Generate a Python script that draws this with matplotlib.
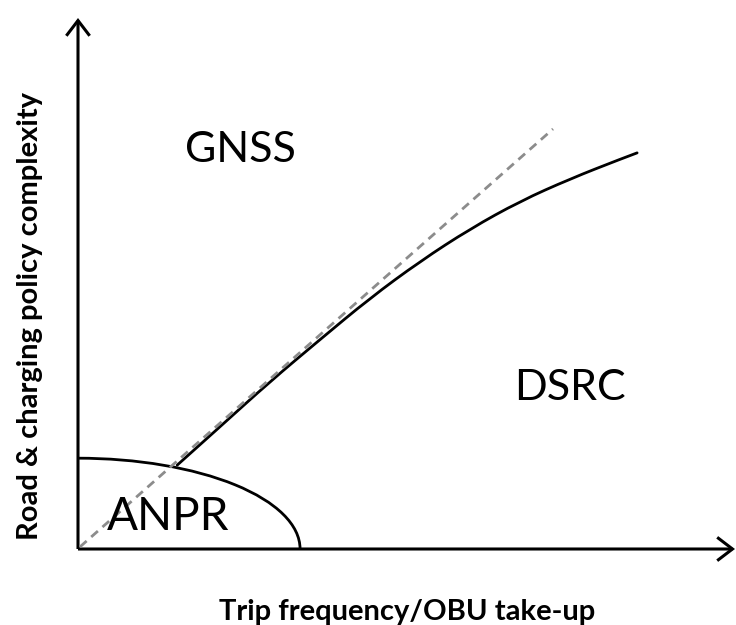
import numpy as np
import matplotlib
matplotlib.use("Agg")
import matplotlib.pyplot as plt
from matplotlib.patches import Arc, FancyArrowPatch, PathPatch
from matplotlib.path import Path

# ---- data (axis units 0..10) ----
boundary_x = [1.51, 2.16, 2.92, 3.68, 4.44, 5.21, 5.97, 6.73, 7.49, 8.25, 8.51]
boundary_y = [1.58, 2.30, 3.15, 3.94, 4.72, 5.42, 6.03, 6.55, 6.97, 7.34, 7.46]
trend_x = [0.03, 7.23]
trend_y = [0.04, 7.91]
anpr_a = 3.38   # semi-axis along x
anpr_b = 1.71   # semi-axis along y
region_labels = ["GNSS", "DSRC", "ANPR"]
region_x = [2.48, 7.49, 1.37]
region_y = [7.29, 2.81, 0.36]
xlabel = "Trip frequency/OBU take-up"
ylabel = "Road & charging policy complexity"

W, H = 736, 625
fig = plt.figure(figsize=(W / 100, H / 100), dpi=100)
ox, oy = 78, 549
ax = fig.add_axes([ox / W, (H - oy) / H, (735 - ox) / W, (oy - 18) / H])
ax.set_xlim(0, 10)
ax.set_ylim(0, 10)
ax.axis("off")

font = "Lato"

# axes arrows
for end in [(10, 0), (0, 10)]:
    arr = FancyArrowPatch((0, 0), end, arrowstyle="->,head_length=0.55,head_width=0.42",
                          mutation_scale=20, lw=2.2, color="black", clip_on=False,
                          shrinkA=0, shrinkB=0, joinstyle="miter", capstyle="butt")
    ax.add_patch(arr)

# dashed trend line
ax.plot(trend_x, trend_y, color="#8c8c8c", lw=2.0, ls=(0, (3.2, 2.2)), clip_on=False)

# ANPR ellipse arc
ax.add_patch(Arc((0, 0), 2 * anpr_a, 2 * anpr_b, theta1=0, theta2=90,
                 color="black", lw=2.0, clip_on=False))

# boundary curve: smooth quadratic Bezier path using read points as control points
pts = list(zip(boundary_x, boundary_y))
verts = [pts[0]]
codes = [Path.MOVETO]
for i in range(1, len(pts) - 1):
    mid = ((pts[i][0] + pts[i + 1][0]) / 2, (pts[i][1] + pts[i + 1][1]) / 2)
    if i == len(pts) - 2:
        mid = pts[i + 1]
    verts += [pts[i], mid]
    codes += [Path.CURVE3, Path.CURVE3]
ax.add_patch(PathPatch(Path(verts, codes), fill=False, edgecolor="black", lw=2.0,
                       clip_on=False, capstyle="round"))

sizes = [31, 31, 33]
for lab, x, y, s in zip(region_labels, region_x, region_y, sizes):
    ax.text(x, y, lab, ha="center", va="baseline", fontsize=s, family=font, color="black")

fig.text(407 / W, 1 - 620 / H, xlabel, ha="center", va="baseline",
         fontsize=21, fontweight="bold", family=font)
fig.text(30 / W, 1 - 316 / H, ylabel, ha="center", va="center", rotation=90,
         fontsize=21, fontweight="bold", family=font)

fig.savefig("out.png", dpi=100, facecolor="white")
